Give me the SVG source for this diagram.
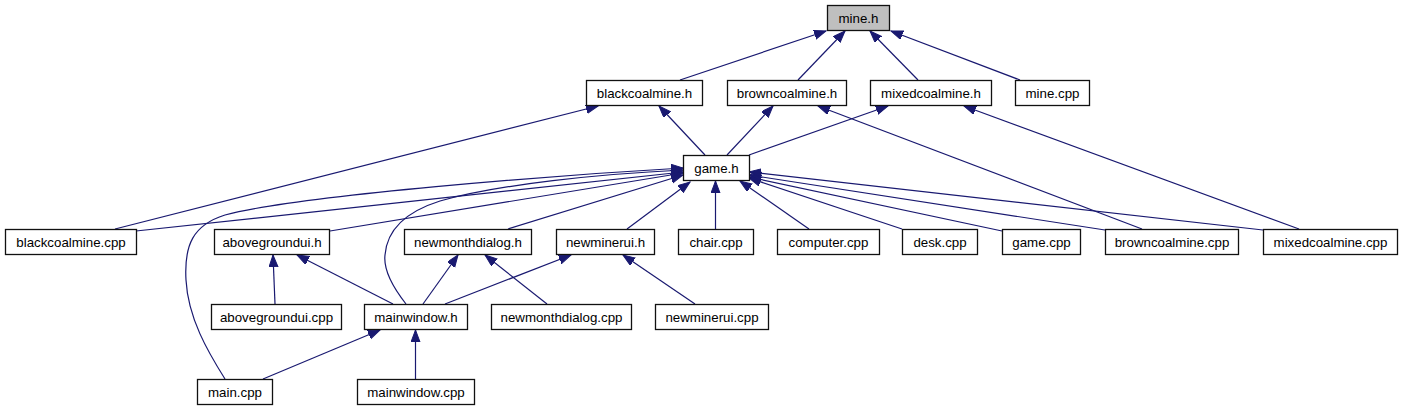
<svg xmlns="http://www.w3.org/2000/svg" width="1403" height="411" viewBox="0 0 1403 411">
<style>
.n rect{fill:#fff;stroke:#111;stroke-width:1.3}
.n text{font-family:"Liberation Sans",Arial,sans-serif;font-size:13.3px;fill:#000;text-anchor:middle}
#mine_h rect{fill:#bfbfbf}
.e path{fill:none;stroke:#191970;stroke-width:1.2;marker-end:url(#ah)}
</style>
<defs>
<marker id="ah" markerUnits="userSpaceOnUse" markerWidth="14" markerHeight="11" refX="12" refY="4.5" orient="auto">
<path d="M0,0 L12,4.5 L0,9 z" fill="#191970" stroke="#191970" stroke-width="1"/>
</marker>
</defs>
<rect width="1403" height="411" fill="#fff"/>
<g id="edges" class="e">
<path d="M680,80 L826,31"/>
<path d="M798,80 L845,31"/>
<path d="M918,80 L870,31"/>
<path d="M1020,80 L891,31"/>
<path d="M705,155 L659,106"/>
<path d="M727,155 L773,106"/>
<path d="M749,155 L888,106"/>
<path d="M115,229 L598,106"/>
<path d="M1142,229 L818,106"/>
<path d="M1299,229 L964,106"/>
<path d="M136,231 L683,172"/>
<path d="M330,231 L683,173"/>
<path d="M225,379 C208,352 188,318 186,280 C184,245 193,225 225,215 C300,195 560,175 683,168"/>
<path d="M406,304 C395,290 383,272 385,255 C387,230 405,212 440,201 C500,184 600,174 683,170"/>
<path d="M508,229 L683,175"/>
<path d="M627,229 L690,182"/>
<path d="M715.5,229 L715.5,181"/>
<path d="M809,229 L740,181"/>
<path d="M902,229 L749,178"/>
<path d="M1002,231 L749,177"/>
<path d="M1105,230 L749,175"/>
<path d="M1263,230 L749,172"/>
<path d="M275,304 L273,255"/>
<path d="M393,304 L297,255"/>
<path d="M423,304 L458,255"/>
<path d="M445,304 L571,255"/>
<path d="M547,304 L485,255"/>
<path d="M695,304 L623,255"/>
<path d="M263,379 L380,330"/>
<path d="M415.5,379 L415.5,330"/>
</g>
<g id="mine_h" class="n"><rect x="827.5" y="5.5" width="62" height="25"/><text x="858.5" y="22.5">mine.h</text></g>
<g id="blackcoalmine_h" class="n"><rect x="586.5" y="80.5" width="116" height="25"/><text x="644.5" y="97.5">blackcoalmine.h</text></g>
<g id="browncoalmine_h" class="n"><rect x="727.5" y="80.5" width="119" height="25"/><text x="787" y="97.5">browncoalmine.h</text></g>
<g id="mixedcoalmine_h" class="n"><rect x="870.5" y="80.5" width="121" height="25"/><text x="931" y="97.5">mixedcoalmine.h</text></g>
<g id="mine_cpp" class="n"><rect x="1015.5" y="80.5" width="74" height="25"/><text x="1052.5" y="97.5">mine.cpp</text></g>
<g id="game_h" class="n"><rect x="683.5" y="155.5" width="66" height="25"/><text x="716.5" y="172.5">game.h</text></g>
<g id="blackcoalmine_cpp" class="n"><rect x="5.5" y="229.5" width="131" height="25"/><text x="71" y="246.5">blackcoalmine.cpp</text></g>
<g id="abovegroundui_h" class="n"><rect x="214.5" y="229.5" width="115" height="25"/><text x="272" y="246.5">abovegroundui.h</text></g>
<g id="newmonthdialog_h" class="n"><rect x="404.5" y="229.5" width="127" height="25"/><text x="468" y="246.5">newmonthdialog.h</text></g>
<g id="newminerui_h" class="n"><rect x="556.5" y="229.5" width="98" height="25"/><text x="605.5" y="246.5">newminerui.h</text></g>
<g id="chair_cpp" class="n"><rect x="678.5" y="229.5" width="75" height="25"/><text x="716" y="246.5">chair.cpp</text></g>
<g id="computer_cpp" class="n"><rect x="777.5" y="229.5" width="102" height="25"/><text x="828.5" y="246.5">computer.cpp</text></g>
<g id="desk_cpp" class="n"><rect x="902.5" y="229.5" width="75" height="25"/><text x="940" y="246.5">desk.cpp</text></g>
<g id="game_cpp" class="n"><rect x="1002.5" y="229.5" width="78" height="25"/><text x="1041.5" y="246.5">game.cpp</text></g>
<g id="browncoalmine_cpp" class="n"><rect x="1105.5" y="229.5" width="133" height="25"/><text x="1172" y="246.5">browncoalmine.cpp</text></g>
<g id="mixedcoalmine_cpp" class="n"><rect x="1263.5" y="229.5" width="134" height="25"/><text x="1330.5" y="246.5">mixedcoalmine.cpp</text></g>
<g id="abovegroundui_cpp" class="n"><rect x="211.5" y="304.5" width="130" height="25"/><text x="276.5" y="321.5">abovegroundui.cpp</text></g>
<g id="mainwindow_h" class="n"><rect x="364.5" y="304.5" width="103" height="25"/><text x="416" y="321.5">mainwindow.h</text></g>
<g id="newmonthdialog_cpp" class="n"><rect x="491.5" y="304.5" width="140" height="25"/><text x="561.5" y="321.5">newmonthdialog.cpp</text></g>
<g id="newminerui_cpp" class="n"><rect x="655.5" y="304.5" width="113" height="25"/><text x="712" y="321.5">newminerui.cpp</text></g>
<g id="main_cpp" class="n"><rect x="197.5" y="379.5" width="75" height="25"/><text x="235" y="396.5">main.cpp</text></g>
<g id="mainwindow_cpp" class="n"><rect x="357.5" y="379.5" width="117" height="25"/><text x="416" y="396.5">mainwindow.cpp</text></g>
</svg>
